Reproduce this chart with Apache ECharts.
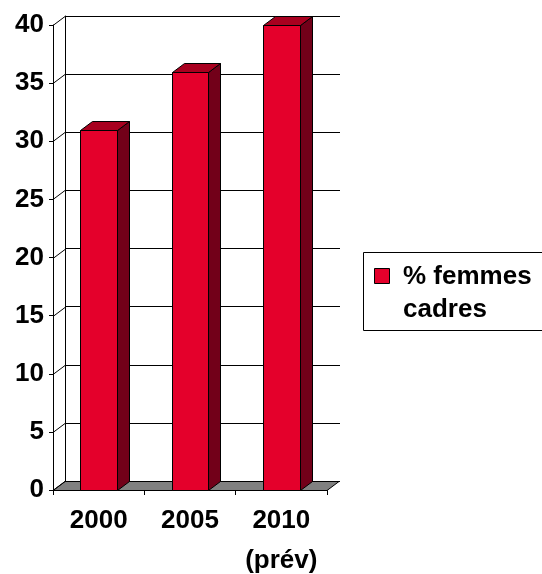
<!DOCTYPE html>
<html>
<head>
<meta charset="utf-8">
<script src="https://cdn.jsdelivr.net/npm/echarts@6/dist/echarts.min.js"></script>
<style>
html,body{margin:0;padding:0;background:#fff}
#chart{width:542px;height:574px}
</style>
</head>
<body>
<div id="chart"></div>
<script>
// données
var categories = ['2000', '2005', '2010\n(prév)'];
var values = [31, 36, 40];
var seriesName = '% femmes cadres';
var yTicks = [0, 5, 10, 15, 20, 25, 30, 35, 40];

var chart = echarts.init(document.getElementById('chart'));

// profondeur 3D (pixels)
var DX = 12, DY = 9;
var font = 'Liberation Sans, Arial, sans-serif';

function frameItem(params, api) {
    var cs = params.coordSys;
    var x0 = cs.x, x1 = cs.x + cs.width;
    var y0 = Math.round(api.coord([0, 0])[1]) + 0.5;
    var children = [{
        type: 'polygon',
        shape: {points: [[x0, y0], [x1, y0], [x1 + DX, y0 - DY], [x0 + DX, y0 - DY]]},
        style: {fill: '#808080', stroke: '#000', lineWidth: 1}
    }];
    yTicks.forEach(function (t) {
        var y = Math.round(api.coord([0, t])[1]) + 0.5;
        children.push({
            type: 'line',
            shape: {x1: x0, y1: y, x2: x0 + DX, y2: y - DY},
            style: {stroke: '#000', lineWidth: 1}
        });
    });
    return {type: 'group', children: children};
}

function barItem(params, api) {
    var idx = api.value(0);
    var top = api.coord([idx, api.value(1)]);
    var base = api.coord([idx, 0]);
    var w = api.size([1, 0])[0] * 0.4;
    var xa = Math.round(top[0] - w / 2) + 0.5;
    var xb = Math.round(top[0] + w / 2) + 0.5;
    var yt = Math.round(top[1]) + 0.5;
    var yb = Math.round(base[1]) + 0.5;
    var st = {stroke: '#000', lineWidth: 1, lineJoin: 'round'};
    return {
        type: 'group',
        children: [{
            type: 'polygon',
            shape: {points: [[xb, yt], [xb + DX, yt - DY], [xb + DX, yb - DY], [xb, yb]]},
            style: Object.assign({fill: '#720019'}, st)
        }, {
            type: 'polygon',
            shape: {points: [[xa, yt], [xb, yt], [xb + DX, yt - DY], [xa + DX, yt - DY]]},
            style: Object.assign({fill: '#a8001f'}, st)
        }, {
            type: 'rect',
            shape: {x: xa, y: yt, width: xb - xa, height: yb - yt},
            style: Object.assign({fill: '#e4002b'}, st)
        }]
    };
}

var option = {
    backgroundColor: '#fff',
    animation: false,
    grid: [
        {left: 65, top: 16, right: 202, bottom: 93, outerBoundsMode: 'none'},   // paroi du fond
        {left: 53, top: 25, right: 215, bottom: 84, outerBoundsMode: 'none'}    // face avant
    ],
    xAxis: [
        {gridIndex: 0, type: 'category', data: categories, show: false},
        {
            gridIndex: 1, type: 'category', data: categories,
            axisLine: {lineStyle: {color: '#000', width: 1}},
            axisTick: {show: true, length: 5, lineStyle: {color: '#000'}},
            axisLabel: {
                color: '#000', fontFamily: font, fontWeight: 'bold', fontSize: 26,
                lineHeight: 40, margin: 11, interval: 0
            }
        }
    ],
    yAxis: [
        {
            gridIndex: 0, type: 'value', min: yTicks[0], max: yTicks[yTicks.length - 1], interval: 5,
            axisLine: {show: true, lineStyle: {color: '#000'}},
            axisTick: {show: false},
            axisLabel: {show: false},
            splitLine: {show: true, lineStyle: {color: '#000', width: 1}}
        },
        {
            gridIndex: 1, type: 'value', min: yTicks[0], max: yTicks[yTicks.length - 1], interval: 5,
            axisLine: {show: true, lineStyle: {color: '#000'}},
            axisTick: {show: true, length: 4, lineStyle: {color: '#000'}},
            axisLabel: {color: '#000', fontFamily: font, fontWeight: 'bold', fontSize: 26, margin: 9},
            splitLine: {show: false}
        }
    ],
    series: [
        {
            type: 'custom', xAxisIndex: 1, yAxisIndex: 1, z: 1,
            renderItem: frameItem, data: [[0, 0]], silent: true
        },
        {
            name: seriesName, type: 'custom', xAxisIndex: 1, yAxisIndex: 1, z: 3,
            renderItem: barItem,
            encode: {x: 0, y: 1},
            data: values.map(function (v, i) { return [i, v]; })
        }
    ],
    // légende
    graphic: [
        {
            type: 'rect', shape: {x: 363.5, y: 252.5, width: 190, height: 78},
            style: {fill: '#fff', stroke: '#000', lineWidth: 1}
        },
        {
            type: 'rect', shape: {x: 374.5, y: 268.5, width: 15, height: 15},
            style: {fill: '#e4002b', stroke: '#000', lineWidth: 1}
        },
        {
            type: 'text', x: 403, y: 260,
            style: {
                text: '% femmes\ncadres', fill: '#000', fontFamily: font,
                fontWeight: 'bold', fontSize: 26, lineHeight: 33
            }
        }
    ]
};
chart.setOption(option);
window.onresize = function () { chart.resize(); };
</script>
</body>
</html>
